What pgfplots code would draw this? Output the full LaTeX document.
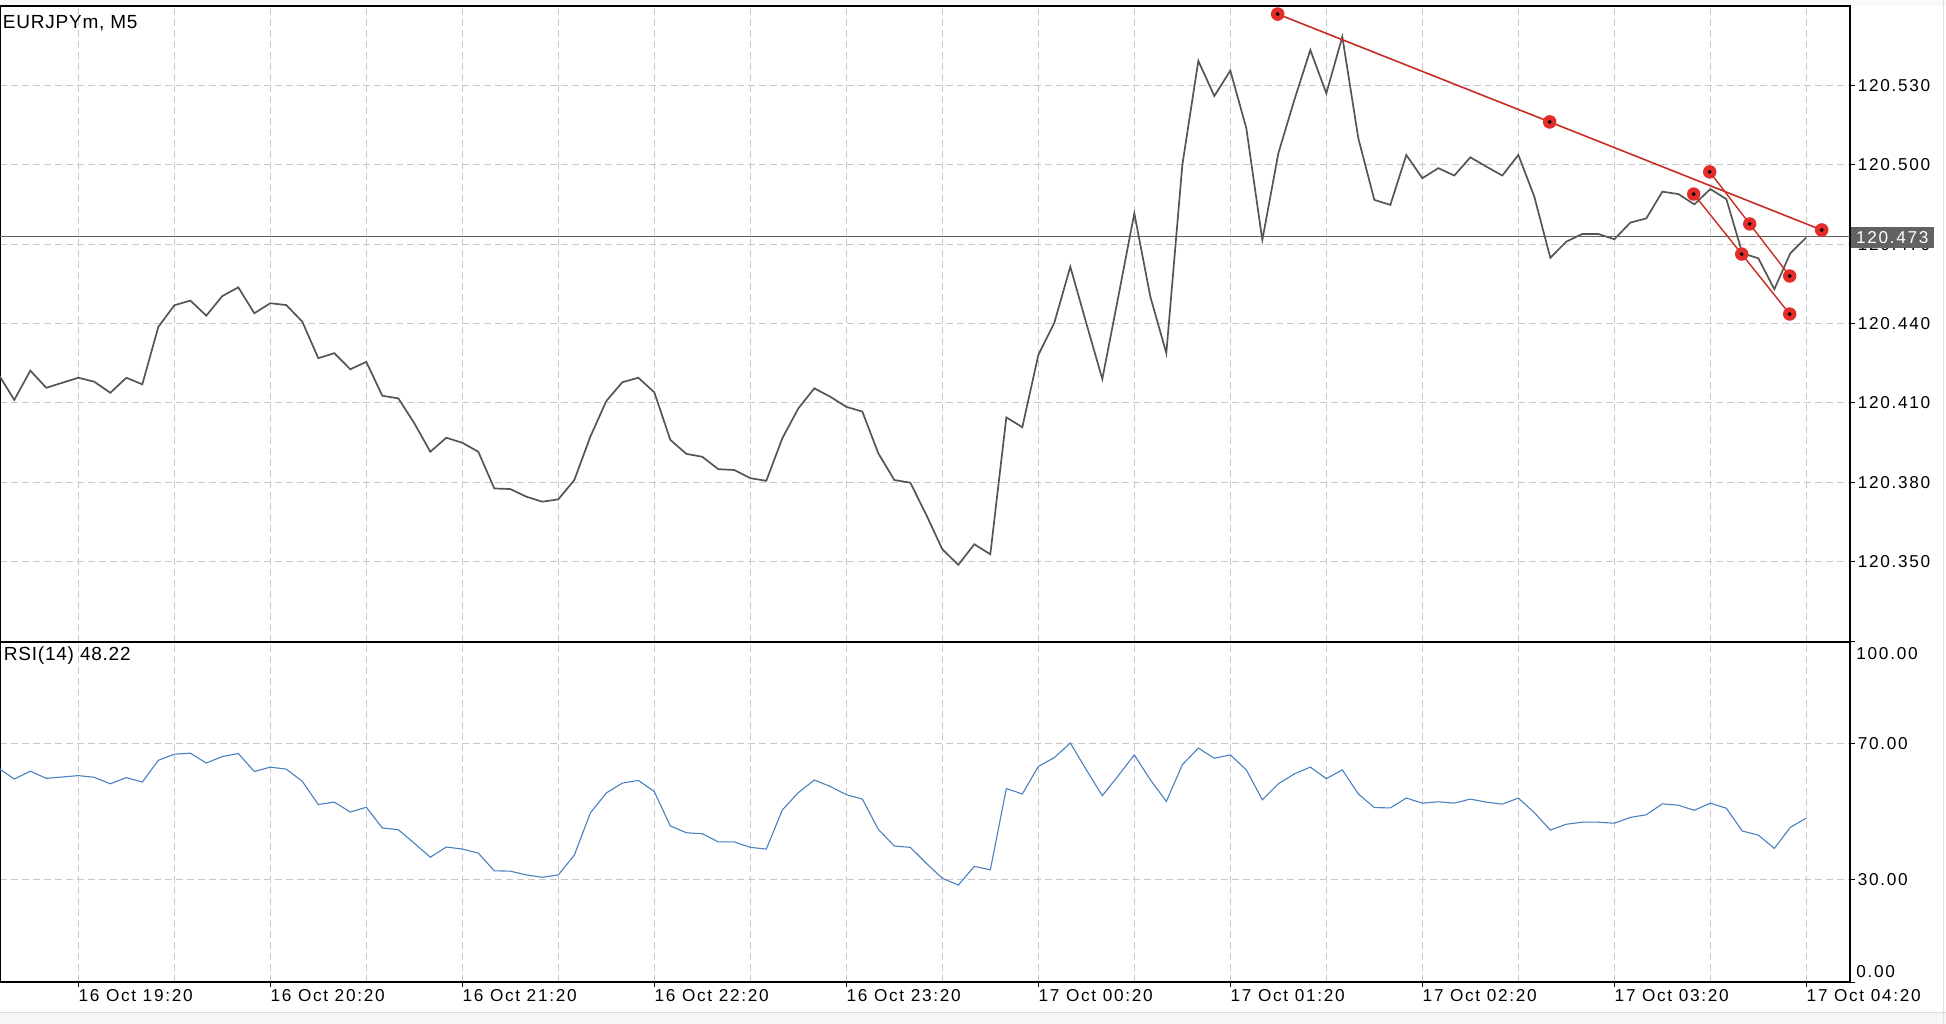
\documentclass[border=0pt]{standalone}
\usepackage{fontspec}
\setmainfont{Liberation Sans}
\newfontfamily\tickfont[LetterSpace=10]{Liberation Sans}
\newfontfamily\titlefont[LetterSpace=4]{Liberation Sans}
\usepackage{pgfplots}
\usepackage{pgfplotstable}
\pgfplotsset{compat=1.18}

\definecolor{gridc}{RGB}{200,200,200}
\definecolor{pricec}{RGB}{85,85,85}
\definecolor{rsic}{RGB}{74,128,192}
\definecolor{trendc}{RGB}{200,45,35}
\definecolor{handlec}{RGB}{228,45,40}
\definecolor{boxc}{RGB}{98,98,98}

% bar index i: 0 = 16 Oct 19:20, one step = 5 min
\pgfplotstableread{
i price rsi
-5 120.4209 62.9
-4 120.4111 59.7
-3 120.4222 62.0
-2 120.4157 59.9
-1 120.4176 60.3
0 120.4195 60.7
1 120.4180 60.2
2 120.4138 58.3
3 120.4195 60.1
4 120.4170 58.8
5 120.4387 65.2
6 120.4469 67.0
7 120.4487 67.3
8 120.4430 64.4
9 120.4504 66.3
10 120.4537 67.2
11 120.4439 61.9
12 120.4477 63.2
13 120.4470 62.6
14 120.4407 59.0
15 120.4269 52.2
16 120.4288 52.9
17 120.4227 50.0
18 120.4255 51.4
19 120.4127 45.3
20 120.4117 44.8
21 120.4023 40.8
22 120.3915 36.7
23 120.3968 39.7
24 120.3949 39.1
25 120.3915 37.9
26 120.3776 32.7
27 120.3774 32.6
28 120.3745 31.5
29 120.3726 30.8
30 120.3735 31.5
31 120.3808 37.3
32 120.3972 49.7
33 120.4107 55.6
34 120.4178 58.5
35 120.4195 59.3
36 120.4140 56.0
37 120.3960 45.9
38 120.3907 43.9
39 120.3896 43.6
40 120.3849 41.2
41 120.3846 41.2
42 120.3815 39.6
43 120.3805 39.1
44 120.3966 50.6
45 120.4079 55.7
46 120.4155 59.4
47 120.4123 57.5
48 120.4085 55.1
49 120.4067 53.8
50 120.3909 44.9
51 120.3808 40.0
52 120.3798 39.6
53 120.3676 34.9
54 120.3546 30.5
55 120.3487 28.5
56 120.3565 34.0
57 120.3527 33.0
58 120.4045 56.9
59 120.4008 55.3
60 120.4281 63.4
61 120.4403 66.0
62 120.4615 70.3
63 120.4401 62.4
64 120.4190 54.8
65 120.4502 60.7
66 120.4817 66.8
67 120.4502 59.5
68 120.4288 53.1
69 120.5000 63.9
70 120.5394 68.8
71 120.5261 65.8
72 120.5357 66.8
73 120.5139 62.4
74 120.4716 53.6
75 120.5044 58.3
76 120.5246 61.2
77 120.5435 63.2
78 120.5271 59.8
79 120.5485 62.4
80 120.5101 55.3
81 120.4868 51.3
82 120.4849 51.2
83 120.5038 54.1
84 120.4950 52.6
85 120.4988 53.0
86 120.4960 52.6
87 120.5029 53.8
88 120.4994 52.9
89 120.4960 52.3
90 120.5038 54.1
91 120.4880 49.8
92 120.4649 44.7
93 120.4710 46.4
94 120.4739 47.0
95 120.4739 47.0
96 120.4719 46.7
97 120.4782 48.4
98 120.4798 49.2
99 120.4899 52.4
100 120.4890 52.0
101 120.4851 50.5
102 120.4909 52.6
103 120.4871 51.1
104 120.4666 44.4
105 120.4647 43.2
106 120.4530 39.3
107 120.4666 45.5
108 120.4726 48.2
}\bars

\pgfplotsset{
  mtpanel/.style={
    scale only axis, anchor=south west, width=925bp,
    xmin=-4.894, xmax=110.73,
    axis line style={black, line width=0.6bp},
    grid style={gridc, dash pattern=on 3.5bp off 2bp, line width=0.5bp},
    xmajorgrids, xminorgrids, ymajorgrids,
    xtick={0,12,...,108}, minor xtick={6,18,...,102},
    ytick pos=right, yticklabel pos=right, xtick pos=bottom,
    tick align=outside, major tick length=2.5bp, minor tick length=0pt,
    tick style={black, line width=0.5bp},
    tick label style={font=\tickfont\fontsize{8.6bp}{10bp}\selectfont},
    /pgf/number format/assume math mode=true,
    yticklabel style={anchor=west, inner sep=0pt, xshift=1.2bp},
  }
}

\begin{document}
\begin{tikzpicture}
\useasboundingbox (0,0) rectangle (973bp,512bp);
\fill[gray!7] (0,0) rectangle (973bp,5.5bp);
\draw[gray!30, line width=0.5bp] (0,5.5bp) -- (973bp,5.5bp);
\fill[gray!5] (0,509bp) rectangle (973bp,512bp);
\draw[gray!25, line width=0.5bp] (971.5bp,0) -- (971.5bp,512bp);

% price panel
\begin{axis}[mtpanel, at={(0,191bp)}, height=318bp,
  ymin=120.31952, ymax=120.56016,
  xticklabels={}, major x tick style={draw=none},
  ytick={120.35,120.38,120.41,120.44,120.47,120.50,120.53},
  yticklabels={120.350,120.380,120.410,120.440,120.470,120.500,120.530},
]
\addplot[gray!75!black, line width=0.6bp] coordinates {(-4.894,120.473) (110.73,120.473)};
\addplot[pricec, line width=0.85bp] table[x=i, y=price] {\bars};
% trend lines with handles
\addplot[trendc, line width=0.8bp, mark=*, mark size=3bp, mark options={fill=handlec, draw=handlec}]
  coordinates {(74.96,120.5571) (91.96,120.5163) (108.96,120.4754)};
\addplot[trendc, line width=0.7bp, mark=*, mark size=3bp, mark options={fill=handlec, draw=handlec}]
  coordinates {(100.96,120.4890) (103.96,120.4663) (106.96,120.4436)};
\addplot[trendc, line width=0.7bp, mark=*, mark size=3bp, mark options={fill=handlec, draw=handlec}]
  coordinates {(101.96,120.4974) (104.46,120.4777) (106.96,120.4580)};
\addplot[only marks, mark=*, mark size=0.75bp, black]
  coordinates {(74.96,120.5571) (91.96,120.5163) (108.96,120.4754)
               (100.96,120.4890) (103.96,120.4663) (106.96,120.4436)
               (101.96,120.4974) (104.46,120.4777) (106.96,120.4580)};
\end{axis}

% RSI panel
\begin{axis}[mtpanel, at={(0,21bp)}, height=170bp,
  ymin=0, ymax=100,
  ytick={0,30,70,100}, yticklabels={,30.00,70.00,},
  xticklabels={16 Oct 19:20,16 Oct 20:20,16 Oct 21:20,16 Oct 22:20,16 Oct 23:20,
    17 Oct 00:20,17 Oct 01:20,17 Oct 02:20,17 Oct 03:20,17 Oct 04:20},
  xticklabel style={anchor=north west, inner sep=0pt, yshift=-1bp},
]
\addplot[rsic, line width=0.55bp] table[x=i, y=rsi] {\bars};
\end{axis}

% labels
\node[anchor=base west, inner sep=0pt, font=\titlefont\fontsize{9.5bp}{11bp}\selectfont] at (1.3bp,497.8bp) {EURJPYm, M5};
\node[anchor=base west, inner sep=0pt, font=\titlefont\fontsize{9.5bp}{11bp}\selectfont] at (1.8bp,181.6bp) {RSI(14) 48.22};
\node[anchor=west, inner sep=0pt, font=\tickfont\fontsize{8.6bp}{10bp}\selectfont] at (928bp,185.3bp) {100.00};
\node[anchor=west, inner sep=0pt, font=\tickfont\fontsize{8.6bp}{10bp}\selectfont] at (928bp,26.2bp) {0.00};
\node[anchor=west, fill=boxc, text=white, inner xsep=2.5bp, inner ysep=0pt, minimum height=10.5bp,
  font=\tickfont\fontsize{8.6bp}{10bp}\selectfont] at (925.3bp,393.4bp) {120.473};
\end{tikzpicture}
\end{document}
